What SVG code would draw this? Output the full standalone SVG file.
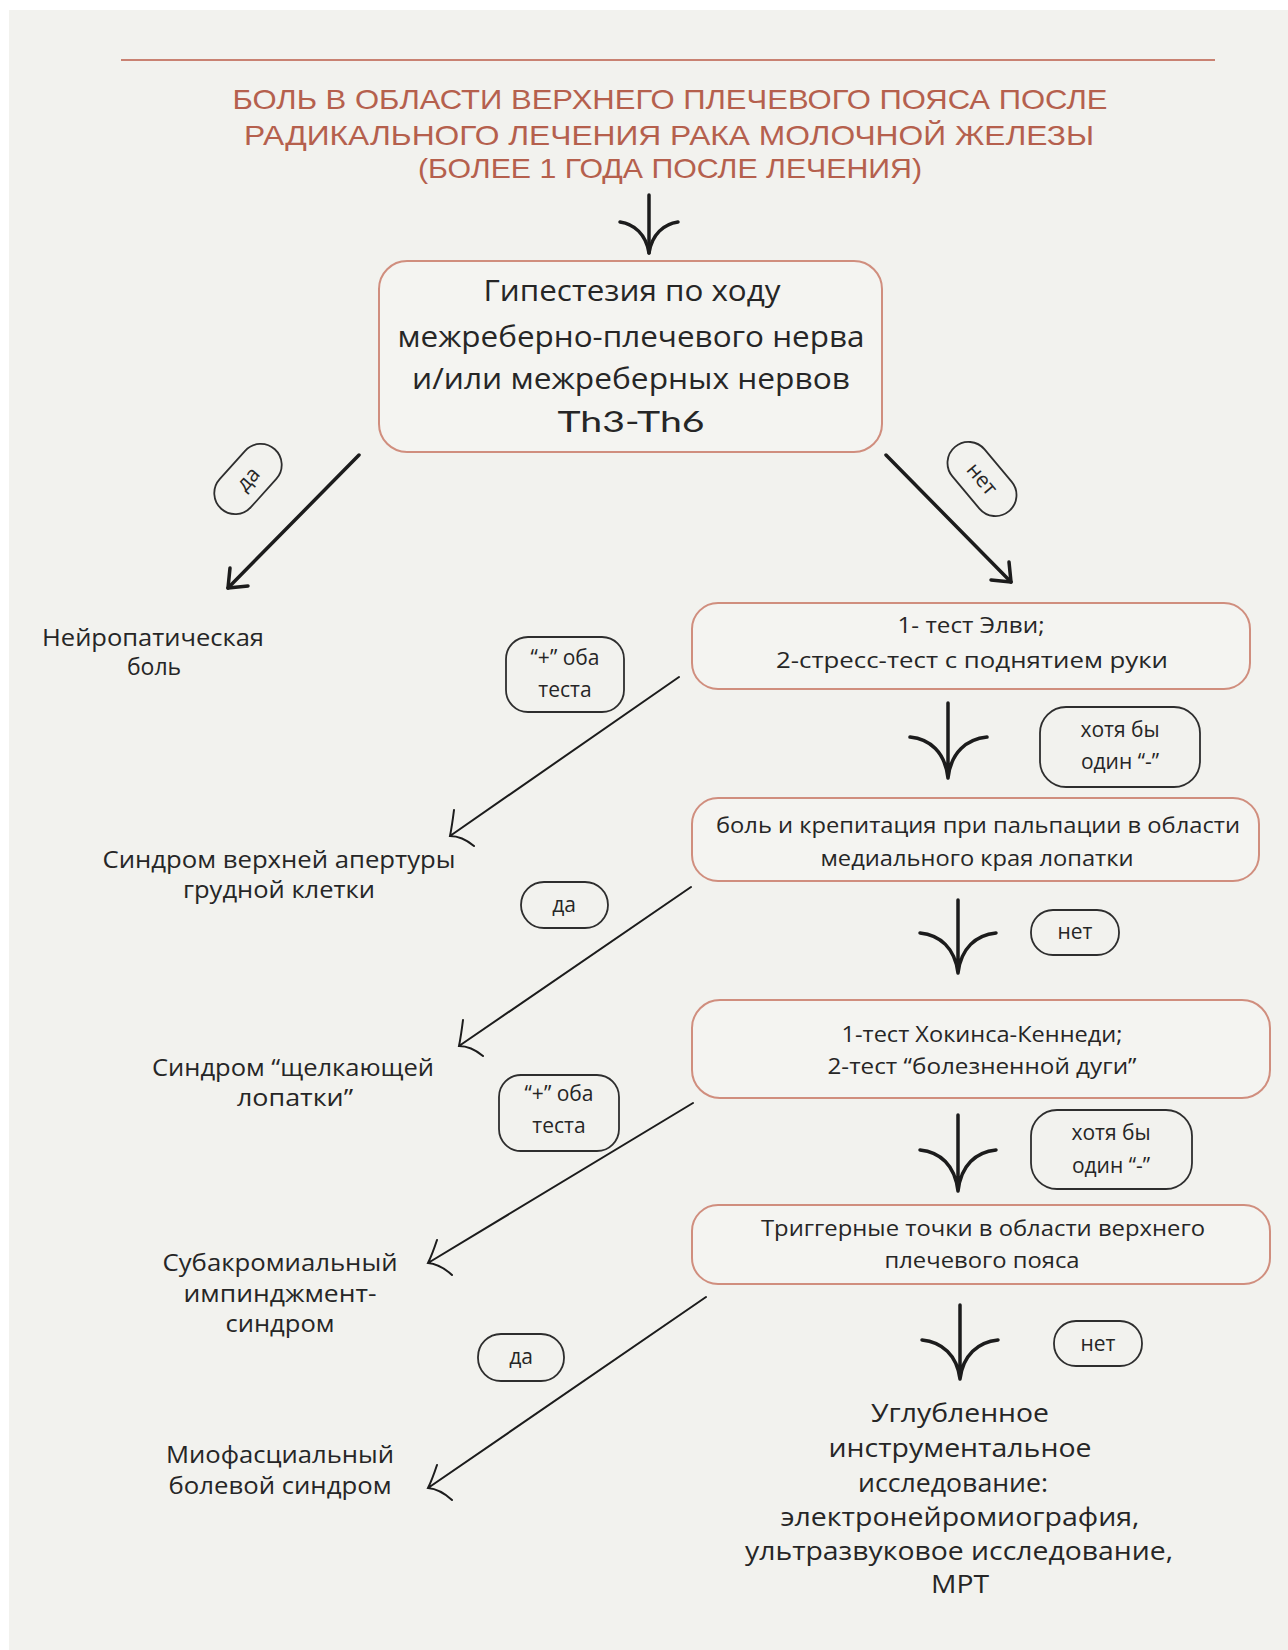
<svg xmlns="http://www.w3.org/2000/svg" width="1288" height="1650" viewBox="0 0 1288 1650">
<style>
.t{font-family:"Open Sans","Liberation Sans",sans-serif;fill:#262626;text-anchor:middle}
.title{font-family:"Liberation Sans","Arial",sans-serif;fill:#b5604d;font-size:28px}
.b1{font-size:29px}
.th{font-family:"Lato","Open Sans",sans-serif;font-size:28px;font-weight:400;fill:#262626;text-anchor:middle}
.bx{font-size:22px}
.lbl{font-size:23px}
.pl{font-size:21px}
.fin{font-size:25px}
.box{fill:#f4f4f1;stroke:#d08e7e;stroke-width:2}
.pill{fill:#f2f2ee;stroke:#2e2e2e;stroke-width:1.8}
.ln{fill:none;stroke:#1c1c1c;stroke-linecap:round}
.thin{stroke-width:2}
.thick{stroke-width:3.5}
.va{stroke-width:3.5}
</style>
<rect x="0" y="0" width="1288" height="1650" fill="#ffffff"/>
<rect x="9" y="10" width="1279" height="1640" fill="#f2f2ee"/>

<g id="title">
<line x1="121" y1="60" x2="1215" y2="60" stroke="#c98272" stroke-width="2"/>
<text class="t title" x="670" y="109" textLength="875" lengthAdjust="spacingAndGlyphs">БОЛЬ В ОБЛАСТИ ВЕРХНЕГО ПЛЕЧЕВОГО ПОЯСА ПОСЛЕ</text>
<text class="t title" x="669" y="145" textLength="850" lengthAdjust="spacingAndGlyphs">РАДИКАЛЬНОГО ЛЕЧЕНИЯ РАКА МОЛОЧНОЙ ЖЕЛЕЗЫ</text>
<text class="t title" x="670" y="178" textLength="504" lengthAdjust="spacingAndGlyphs">(БОЛЕЕ 1 ГОДА ПОСЛЕ ЛЕЧЕНИЯ)</text>
</g>

<g id="node-hypesthesia">
<rect class="box" x="379" y="261" width="503" height="191" rx="28"/>
<text class="t b1" x="632" y="301" textLength="297" lengthAdjust="spacingAndGlyphs">Гипестезия по ходу</text>
<text class="t b1" x="631" y="347" textLength="467" lengthAdjust="spacingAndGlyphs">межреберно-плечевого нерва</text>
<text class="t b1" x="631" y="389" textLength="438" lengthAdjust="spacingAndGlyphs">и/или межреберных нервов</text>
<text class="th" x="631" y="432" textLength="147" lengthAdjust="spacingAndGlyphs">Th3-Th6</text>
</g>

<g id="node-neuropathic">
<text class="t lbl" x="153" y="646" textLength="222" lengthAdjust="spacingAndGlyphs">Нейропатическая</text>
<text class="t lbl" x="154" y="675">боль</text>
</g>

<g id="node-elvey">
<rect class="box" x="692" y="603" width="558" height="86" rx="26"/>
<text class="t bx" x="971" y="633" textLength="147" lengthAdjust="spacingAndGlyphs">1- тест Элви;</text>
<text class="t bx" x="972" y="668" textLength="392" lengthAdjust="spacingAndGlyphs">2-стресс-тест с поднятием руки</text>
</g>

<g id="node-crepitation">
<rect class="box" x="692" y="798" width="567" height="83" rx="26"/>
<text class="t bx" x="978" y="833" textLength="524" lengthAdjust="spacingAndGlyphs">боль и крепитация при пальпации в области</text>
<text class="t bx" x="977" y="866" textLength="313" lengthAdjust="spacingAndGlyphs">медиального края лопатки</text>
</g>

<g id="node-hawkins">
<rect class="box" x="692" y="1000" width="578" height="98" rx="28"/>
<text class="t bx" x="982" y="1042" textLength="281" lengthAdjust="spacingAndGlyphs">1-тест Хокинса-Кеннеди;</text>
<text class="t bx" x="982" y="1074" textLength="309" lengthAdjust="spacingAndGlyphs">2-тест “болезненной дуги”</text>
</g>

<g id="node-trigger">
<rect class="box" x="692" y="1205" width="578" height="79" rx="26"/>
<text class="t bx" x="983" y="1236" textLength="444" lengthAdjust="spacingAndGlyphs">Триггерные точки в области верхнего</text>
<text class="t bx" x="982" y="1268" textLength="195" lengthAdjust="spacingAndGlyphs">плечевого пояса</text>
</g>

<g id="node-tos">
<text class="t lbl" x="279" y="868" textLength="353" lengthAdjust="spacingAndGlyphs">Синдром верхней апертуры</text>
<text class="t lbl" x="279" y="898" textLength="192" lengthAdjust="spacingAndGlyphs">грудной клетки</text>
</g>

<g id="node-snapping">
<text class="t lbl" x="293" y="1076" textLength="282" lengthAdjust="spacingAndGlyphs">Синдром “щелкающей</text>
<text class="t lbl" x="295" y="1106" textLength="116" lengthAdjust="spacingAndGlyphs">лопатки”</text>
</g>

<g id="node-impingement">
<text class="t lbl" x="280" y="1271" textLength="235" lengthAdjust="spacingAndGlyphs">Субакромиальный</text>
<text class="t lbl" x="280" y="1302" textLength="193" lengthAdjust="spacingAndGlyphs">импинджмент-</text>
<text class="t lbl" x="280" y="1332" textLength="109" lengthAdjust="spacingAndGlyphs">синдром</text>
</g>

<g id="node-myofascial">
<text class="t lbl" x="280" y="1463" textLength="228" lengthAdjust="spacingAndGlyphs">Миофасциальный</text>
<text class="t lbl" x="280" y="1494" textLength="223" lengthAdjust="spacingAndGlyphs">болевой синдром</text>
</g>

<g id="node-instrumental">
<text class="t fin" x="960" y="1422" textLength="178" lengthAdjust="spacingAndGlyphs">Углубленное</text>
<text class="t fin" x="960" y="1457" textLength="263" lengthAdjust="spacingAndGlyphs">инструментальное</text>
<text class="t fin" x="953" y="1492" textLength="190" lengthAdjust="spacingAndGlyphs">исследование:</text>
<text class="t fin" x="960" y="1526" textLength="359" lengthAdjust="spacingAndGlyphs">электронейромиография,</text>
<text class="t fin" x="959" y="1560" textLength="428" lengthAdjust="spacingAndGlyphs">ультразвуковое исследование,</text>
<text class="t fin" x="960" y="1593" textLength="58" lengthAdjust="spacingAndGlyphs">МРТ</text>
</g>

<g id="connectors">
<path class="ln va" d="M649 195 V253"/>
<path class="ln va" d="M620 222 C634 224 646 234 649 253 M678 222 C664 224 652 234 649 253"/>
<path class="ln thick" d="M359 455 L228 588"/>
<path class="ln thick" d="M228 588 L230 568 M228 588 L248 586"/>
<path class="ln thick" d="M886 455 L1011 582"/>
<path class="ln thick" d="M1011 582 L1009 562 M1011 582 L991 580"/>
<path class="ln va" d="M948 703 V778 M910 737 C930 739 945 752 948 778 M987 737 C967 739 951 752 948 778"/>
<path class="ln va" d="M958 900 V973 M920 933 C940 935 955 948 958 973 M996 933 C976 935 961 948 958 973"/>
<path class="ln va" d="M958 1115 V1191 M920 1150 C940 1152 955 1165 958 1191 M996 1150 C976 1152 961 1165 958 1191"/>
<path class="ln va" d="M960 1305 V1379 M922 1340 C942 1342 957 1355 960 1379 M998 1340 C978 1342 963 1355 960 1379"/>
<path class="ln thin" d="M679 677 L450 836 M454 810 Q452 826 450 836 Q462 836 474 846"/>
<path class="ln thin" d="M691 887 L459 1046 M463 1020 Q461 1036 459 1046 Q471 1046 483 1056"/>
<path class="ln thin" d="M693 1103 L428 1263 M437 1240 Q432 1255 428 1263 Q440 1264 452 1275"/>
<path class="ln thin" d="M706 1297 L428 1488 M437 1465 Q432 1480 428 1488 Q440 1489 452 1500"/>
</g>

<g id="labels">
<g transform="translate(248 479) rotate(-48)">
<rect class="pill" x="-40" y="-21" width="80" height="42" rx="21"/>
<text class="t pl" x="0" y="7">да</text>
</g>
<g transform="translate(982 479) rotate(50)">
<rect class="pill" x="-42" y="-21" width="84" height="42" rx="21"/>
<text class="t pl" x="0" y="7">нет</text>
</g>
<rect class="pill" x="506" y="637" width="118" height="75" rx="22"/>
<text class="t pl" x="565" y="665">“+” оба</text>
<text class="t pl" x="565" y="697">теста</text>
<rect class="pill" x="1040" y="707" width="160" height="80" rx="26"/>
<text class="t pl" x="1120" y="737">хотя бы</text>
<text class="t pl" x="1120" y="769">один “-”</text>
<rect class="pill" x="521" y="882" width="87" height="46" rx="23"/>
<text class="t pl" x="564" y="912">да</text>
<rect class="pill" x="1031" y="910" width="88" height="45" rx="22"/>
<text class="t pl" x="1075" y="939">нет</text>
<rect class="pill" x="499" y="1075" width="120" height="76" rx="22"/>
<text class="t pl" x="559" y="1101">“+” оба</text>
<text class="t pl" x="559" y="1133">теста</text>
<rect class="pill" x="1031" y="1110" width="161" height="79" rx="26"/>
<text class="t pl" x="1111" y="1140">хотя бы</text>
<text class="t pl" x="1111" y="1173">один “-”</text>
<rect class="pill" x="478" y="1334" width="86" height="47" rx="23"/>
<text class="t pl" x="521" y="1364">да</text>
<rect class="pill" x="1054" y="1321" width="88" height="45" rx="22"/>
<text class="t pl" x="1098" y="1351">нет</text>
</g>
</svg>
